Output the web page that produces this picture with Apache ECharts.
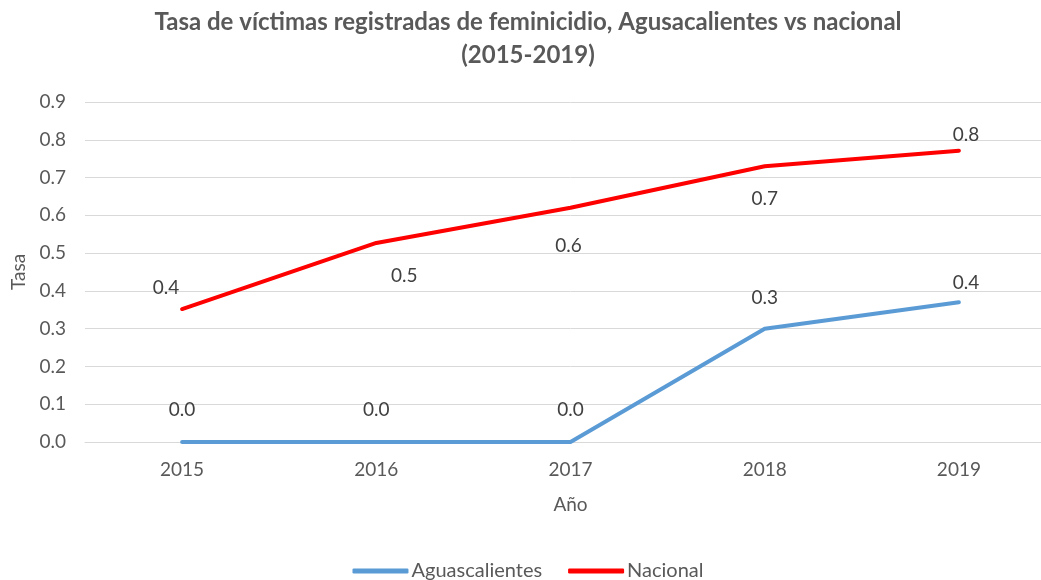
<!DOCTYPE html>
<html>
<head>
<meta charset="utf-8">
<script src="https://cdn.jsdelivr.net/npm/echarts@6/dist/echarts.min.js"></script>
<style>
  html, body { margin: 0; padding: 0; background: #fff; overflow: hidden; }
  /* 图表比窗口略宽, 右侧绘图区被裁掉 (与原图一致) */
  #chart { width: 1056px; height: 580px; }
</style>
</head>
<body>
<div id="chart"></div>
<script>
// 数据
const years = ['2015', '2016', '2017', '2018', '2019'];
const aguascalientes = [0, 0, 0, 0.30, 0.37];
const nacional = [0.352, 0.527, 0.62, 0.73, 0.771];
const yTicks = [0, 0.1, 0.2, 0.3, 0.4, 0.5, 0.6, 0.7, 0.8, 0.9];

// 标签偏移 (模仿 Excel 的自动放置)
const aguasLabelOffsets = [[0, -32], [0, -32], [0, -32], [0, -31], [7, -19]];
const nacLabelOffsets = [[-16, -21], [28, 33], [-2, 38], [0, 33], [7, -16]];

const FONT = 'Lato, "Open Sans", sans-serif';

function buildData(values, offsets) {
    return values.map((v, i) => ({
        value: v,
        label: { offset: offsets[i] }
    }));
}

function lineSeries(name, values, offsets, color) {
    return {
        name: name,
        type: 'line',
        data: buildData(values, offsets),
        symbol: 'circle',
        symbolSize: 0,
        showSymbol: true,
        lineStyle: { color: color, width: 4, cap: 'round', join: 'round' },
        itemStyle: { color: color },
        label: {
            show: true,
            position: 'inside',
            fontFamily: FONT,
            fontSize: 19,
            color: '#404040',
            formatter: p => p.value.toFixed(1)
        }
    };
}

const chart = echarts.init(document.getElementById('chart'));
chart.setOption({
    animation: false,
    title: {
        text: 'Tasa de víctimas registradas de feminicidio, Agusacalientes vs nacional\n(2015-2019)',
        left: 'center',
        top: 1,
        textStyle: {
            fontFamily: FONT,
            fontWeight: 'bold',
            fontSize: 24,
            color: '#595959',
            lineHeight: 33
        }
    },
    grid: { left: 85, right: 0, top: 102, height: 340 },
    legend: {
        top: 556,
        left: 'center',
        itemWidth: 56,
        itemHeight: 5,
        itemGap: 26,
        icon: 'roundRect',
        textStyle: { fontFamily: FONT, fontSize: 20, color: '#595959', padding: [0, 0, 0, -2] },
        data: ['Aguascalientes', 'Nacional']
    },
    xAxis: {
        type: 'category',
        data: years,
        boundaryGap: true,
        name: 'Año',
        nameLocation: 'middle',
        nameGap: 53,
        nameTextStyle: { fontFamily: FONT, fontSize: 19, color: '#595959' },
        axisLine: { lineStyle: { color: '#d9d9d9' } },
        axisTick: { show: false },
        axisLabel: { fontFamily: FONT, fontSize: 19, color: '#595959', margin: 18 }
    },
    yAxis: {
        type: 'value',
        min: yTicks[0],
        max: yTicks[yTicks.length - 1],
        interval: 0.1,
        name: 'Tasa',
        nameLocation: 'middle',
        nameGap: 56,
        nameTextStyle: { fontFamily: FONT, fontSize: 19, color: '#595959' },
        axisLine: { show: false },
        axisTick: { show: false },
        splitLine: { lineStyle: { color: '#d9d9d9', width: 1 } },
        axisLabel: {
            fontFamily: FONT, fontSize: 19, color: '#595959', margin: 19,
            formatter: v => v.toFixed(1)
        }
    },
    series: [
        lineSeries('Aguascalientes', aguascalientes, aguasLabelOffsets, '#5b9bd5'),
        lineSeries('Nacional', nacional, nacLabelOffsets, '#ff0000')
    ]
});
</script>
</body>
</html>
